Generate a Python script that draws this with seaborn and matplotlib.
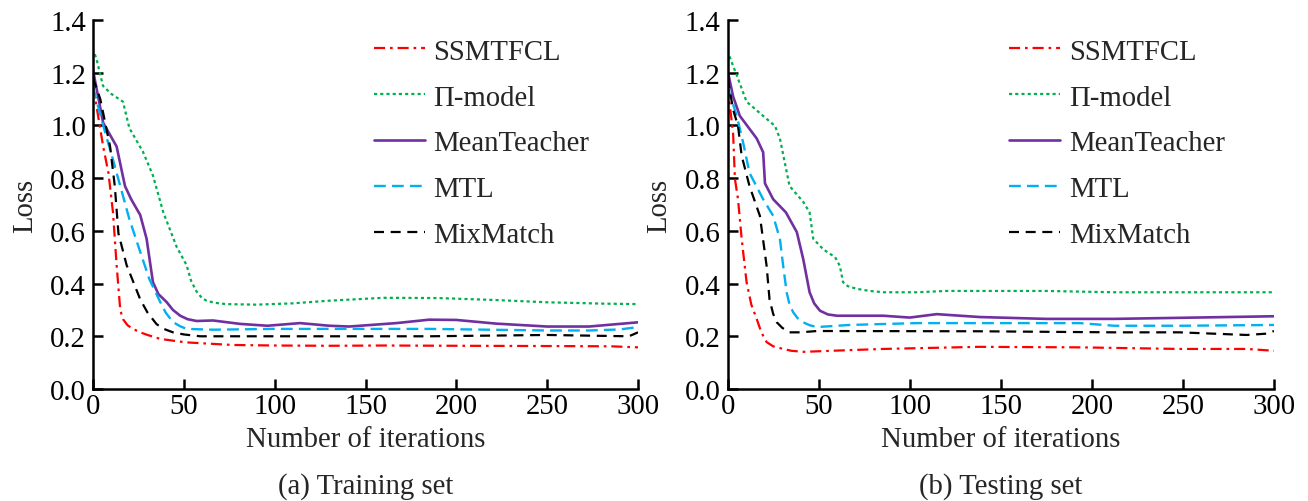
import matplotlib
matplotlib.use("Agg")
import matplotlib.pyplot as plt
import seaborn as sns

# ---- Training set curves (iteration, loss) ----
train_ssmtfcl_x = [0, 2, 5.6, 8.5, 11, 13, 15, 16.5, 19, 22, 26, 30, 37, 51, 77, 100, 130, 160, 200, 250, 285, 300]
train_ssmtfcl_y = [1.15, 1.07, 0.92, 0.82, 0.67, 0.47, 0.30, 0.265, 0.242, 0.228, 0.215, 0.205, 0.19, 0.177, 0.167, 0.165, 0.164, 0.165, 0.164, 0.163, 0.162, 0.158]

train_pimodel_x = [1, 2, 5.5, 10, 16.5, 20, 27.5, 33, 38.7, 46, 51.5, 54, 57, 60, 62.5, 67, 73.5, 90, 110, 130, 160, 190, 220, 250, 280, 300]
train_pimodel_y = [1.27, 1.25, 1.15, 1.12, 1.09, 0.99, 0.90, 0.81, 0.67, 0.54, 0.47, 0.41, 0.37, 0.345, 0.335, 0.327, 0.322, 0.32, 0.325, 0.335, 0.346, 0.345, 0.338, 0.329, 0.324, 0.322]

train_meanteacher_x = [0, 5.6, 13, 17.6, 21, 26, 29.5, 33, 36, 40.5, 44, 48, 52, 57, 66, 81, 96, 114, 130, 141, 167, 185, 200, 222, 250, 273, 300]
train_meanteacher_y = [1.21, 1.01, 0.92, 0.77, 0.72, 0.66, 0.57, 0.405, 0.36, 0.33, 0.30, 0.278, 0.265, 0.258, 0.26, 0.247, 0.24, 0.25, 0.24, 0.237, 0.25, 0.263, 0.262, 0.248, 0.237, 0.237, 0.253]

train_mtl_x = [0, 5.6, 11, 15, 20, 26, 31, 37, 40, 44, 48, 51.5, 66, 100, 130, 185, 250, 273, 290, 300]
train_mtl_y = [1.145, 1.0, 0.87, 0.77, 0.645, 0.52, 0.417, 0.33, 0.29, 0.254, 0.238, 0.228, 0.225, 0.228, 0.228, 0.228, 0.222, 0.222, 0.226, 0.235]

train_mixmatch_x = [0, 4, 9.4, 12, 14, 18.5, 26, 30, 35, 39, 44, 50, 59, 100, 130, 185, 250, 295, 300]
train_mixmatch_y = [1.18, 1.10, 0.92, 0.77, 0.59, 0.47, 0.34, 0.29, 0.246, 0.228, 0.215, 0.207, 0.2, 0.2, 0.2, 0.2, 0.205, 0.2, 0.215]

# ---- Testing set curves (iteration, loss) ----
test_ssmtfcl_x = [0, 1.3, 3, 4, 5.7, 7.7, 10.4, 13, 16, 18.5, 21.4, 25, 30.5, 35, 41.5, 57, 85.5, 138, 193.5, 248, 285, 300]
test_ssmtfcl_y = [1.15, 1.07, 0.97, 0.797, 0.72, 0.57, 0.405, 0.32, 0.265, 0.215, 0.178, 0.162, 0.152, 0.145, 0.141, 0.145, 0.152, 0.16, 0.158, 0.152, 0.152, 0.145]

test_pimodel_x = [1, 5, 10.4, 19.5, 26, 28.7, 34, 41.5, 45, 47, 52.5, 59, 61.6, 63.4, 66, 71, 78, 85.5, 104, 120, 138.5, 175, 211.7, 250, 300]
test_pimodel_y = [1.262, 1.19, 1.09, 1.036, 0.998, 0.95, 0.77, 0.71, 0.67, 0.57, 0.53, 0.50, 0.467, 0.405, 0.39, 0.38, 0.372, 0.367, 0.367, 0.372, 0.372, 0.372, 0.367, 0.367, 0.367]

test_meanteacher_x = [0, 3, 6.7, 16, 19.5, 20.5, 25, 32, 38, 41.5, 45, 47.5, 50.7, 55, 60, 85.5, 100, 114.8, 138.5, 175, 211.7, 248, 300]
test_meanteacher_y = [1.207, 1.11, 1.036, 0.95, 0.898, 0.78, 0.72, 0.67, 0.595, 0.493, 0.367, 0.325, 0.297, 0.283, 0.278, 0.278, 0.271, 0.284, 0.273, 0.266, 0.266, 0.27, 0.276]

test_mtl_x = [0, 5, 8.5, 12, 19.5, 25, 28.7, 30.5, 32.4, 34, 36, 38.5, 41.5, 45, 49, 67, 104, 138, 193.5, 212, 250, 300]
test_mtl_y = [1.145, 1.036, 0.935, 0.82, 0.72, 0.657, 0.569, 0.467, 0.367, 0.32, 0.291, 0.268, 0.253, 0.242, 0.235, 0.243, 0.25, 0.25, 0.25, 0.24, 0.24, 0.243]

test_mixmatch_x = [0, 3, 5.7, 7.7, 12, 17.7, 21.4, 23, 25, 27, 30, 34, 40, 49, 138, 212, 248, 285, 296, 300]
test_mixmatch_y = [1.18, 1.06, 0.998, 0.885, 0.77, 0.657, 0.467, 0.34, 0.285, 0.253, 0.232, 0.215, 0.215, 0.22, 0.219, 0.215, 0.215, 0.205, 0.21, 0.22]

method_names = ["SSMTFCL", "\u03a0-model", "MeanTeacher", "MTL", "MixMatch"]
x_ticks = [0, 50, 100, 150, 200, 250, 300]
y_ticks = [0.0, 0.2, 0.4, 0.6, 0.8, 1.0, 1.2, 1.4]
captions = ["(a) Training set", "(b) Testing set"]

# line appearance per method
styles = [
    dict(color="#FF0000", lw=1.6, ls=(0, (5, 2.2, 1.2, 2.2))),
    dict(color="#00B050", lw=1.6, ls=(0, (1.4, 1.4))),
    dict(color="#7030A0", lw=1.9, ls="-"),
    dict(color="#00B0F0", lw=1.7, ls=(0, (5, 2.6))),
    dict(color="#000000", lw=1.6, ls=(0, (4.5, 3))),
]

sns.set_theme(style="ticks")
plt.rcParams["font.family"] = ["Liberation Serif", "DejaVu Serif"]
plt.rcParams["axes.linewidth"] = 1.8

fig = plt.figure(figsize=(13.08, 5.02), dpi=100)
ax_left = fig.add_axes([0.0711, 0.2231, 0.4167, 0.7351])
ax_right = fig.add_axes([0.5563, 0.2231, 0.4177, 0.7351])

panels = [
    (ax_left, [(train_ssmtfcl_x, train_ssmtfcl_y), (train_pimodel_x, train_pimodel_y),
               (train_meanteacher_x, train_meanteacher_y), (train_mtl_x, train_mtl_y),
               (train_mixmatch_x, train_mixmatch_y)]),
    (ax_right, [(test_ssmtfcl_x, test_ssmtfcl_y), (test_pimodel_x, test_pimodel_y),
                (test_meanteacher_x, test_meanteacher_y), (test_mtl_x, test_mtl_y),
                (test_mixmatch_x, test_mixmatch_y)]),
]

fs = 20.7
for (ax, series), caption in zip(panels, captions):
    for (xs, ys), name, st in zip(series, method_names, styles):
        sns.lineplot(x=xs, y=ys, ax=ax, color=st["color"], linewidth=st["lw"],
                     linestyle=st["ls"], label=name, sort=False)
    ax.set_xlim(0, 300)
    ax.set_ylim(0, 1.4)
    ax.set_xticks(x_ticks)
    ax.set_yticks(y_ticks)
    ax.set_xticklabels([str(t) for t in x_ticks])
    ax.set_yticklabels([f"{t:.1f}" for t in y_ticks])
    ax.tick_params(direction="in", length=7, width=1.8, labelsize=fs, pad=3, colors="black")
    ax.tick_params(axis="y", pad=5)
    sns.despine(ax=ax)
    for sp in ("left", "bottom"):
        ax.spines[sp].set_color("black")
    ax.set_xlabel("Number of iterations", fontsize=fs, labelpad=5)
    ax.set_ylabel("Loss", fontsize=fs, labelpad=9)
    leg = ax.legend(loc="upper left", bbox_to_anchor=(0.515, 0.95), frameon=False,
                    fontsize=fs, handlelength=1.77, handletextpad=0.31,
                    labelspacing=0.69, borderaxespad=0.0, borderpad=0.0)
    bb = ax.get_position()
    fig.text((bb.x0 + bb.x1) / 2, 0.03, caption, ha="center", va="center", fontsize=fs)

fig.savefig("out.png", dpi=100)
